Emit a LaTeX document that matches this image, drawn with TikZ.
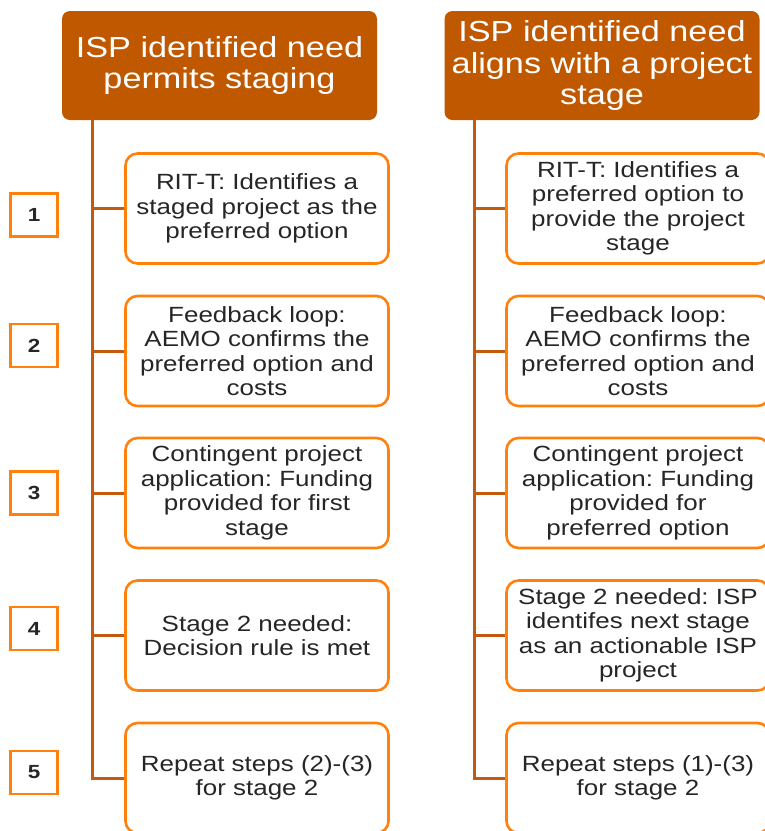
\documentclass[tikz,border=0pt]{standalone}
\usepackage{fontspec}
\setmainfont[FakeStretch=1.18]{Liberation Sans}
\usetikzlibrary{positioning}
\frenchspacing
\definecolor{hdrfill}{RGB}{192,88,0}
\definecolor{boxline}{RGB}{255,128,10}
\definecolor{trunkline}{RGB}{196,90,16}
\definecolor{txt}{RGB}{38,38,38}
\tikzset{
  hdr/.style={fill=hdrfill,rounded corners=8pt,minimum width=315pt,minimum height=109pt,
    inner sep=0pt,text=white,align=center,font=\fontsize{29}{31.5}\selectfont},
  stepbox/.style={draw=boxline,line width=2.6pt,rounded corners=12pt,fill=white,
    minimum width=263pt,minimum height=110pt,inner sep=0pt,text=txt,align=center,
    font=\fontsize{22}{24.5}\selectfont},
  numbox/.style={draw=boxline,line width=2.6pt,minimum width=47pt,minimum height=43pt,
    inner sep=0pt,text=txt,font=\fontsize{19}{21}\selectfont\bfseries},
  trunk/.style={draw=trunkline,line width=3pt}
}
\begin{document}
\begin{tikzpicture}[x=1pt,y=-1pt]
\useasboundingbox (0,0) rectangle (765,831);
% headers
\node[hdr] (hdL) at (219.5,65.5) {ISP identified need\\permits staging};
\node[hdr] (hdR) at (602,65.5) {ISP identified need\\aligns with a project\\stage};
% left column
\node[stepbox] (l1) at (257,208.5) {RIT-T: Identifies a\\staged project as the\\preferred option};
\node[stepbox] (l2) at (257,351) {Feedback loop:\\AEMO confirms the\\preferred option and\\costs};
\node[stepbox] (l3) at (257,493) {Contingent project\\application: Funding\\provided for first\\stage};
\node[stepbox] (l4) at (257,635.5) {Stage 2 needed:\\Decision rule is met};
\node[stepbox] (l5) at (257,778) {Repeat steps (2)-(3)\\for stage 2};
% right column
\node[stepbox] (r1) at (638,208.5) {RIT-T: Identifies a\\preferred option to\\provide the project\\stage};
\node[stepbox] (r2) at (638,351) {Feedback loop:\\AEMO confirms the\\preferred option and\\costs};
\node[stepbox] (r3) at (638,493) {Contingent project\\application: Funding\\provided for\\preferred option};
\node[stepbox] (r4) at (638,635.5) {Stage 2 needed: ISP\\identifes next stage\\as an actionable ISP\\project};
\node[stepbox] (r5) at (638,778) {Repeat steps (1)-(3)\\for stage 2};
% step numbers
\node[numbox] (n1) at (34,215) {1};
\node[numbox] (n2) at (34,345.5) {2};
\node[numbox] (n3) at (34,493) {3};
\node[numbox] (n4) at (34,628.5) {4};
\node[numbox] (n5) at (34,772.5) {5};
% trunks and branches
\coordinate (tL) at ([xshift=31pt]hdL.south west);
\coordinate (tR) at ([xshift=30pt]hdR.south west);
\draw[trunk] (tL) |- (l5.west);
\draw[trunk] (l1.west) -- (l1.west -| tL);
\draw[trunk] (l2.west) -- (l2.west -| tL);
\draw[trunk] (l3.west) -- (l3.west -| tL);
\draw[trunk] (l4.west) -- (l4.west -| tL);
\draw[trunk] (tR) |- (r5.west);
\draw[trunk] (r1.west) -- (r1.west -| tR);
\draw[trunk] (r2.west) -- (r2.west -| tR);
\draw[trunk] (r3.west) -- (r3.west -| tR);
\draw[trunk] (r4.west) -- (r4.west -| tR);
\end{tikzpicture}
\end{document}
